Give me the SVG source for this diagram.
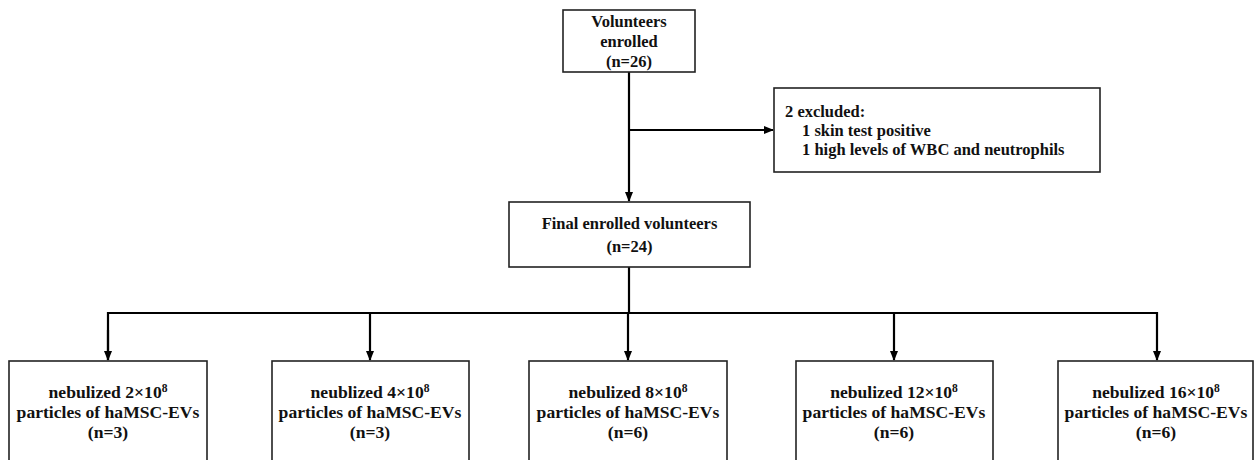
<svg xmlns="http://www.w3.org/2000/svg" width="1255" height="460" viewBox="0 0 1255 460">
<defs>
<marker id="arr" markerWidth="10" markerHeight="10" refX="9" refY="5" orient="auto" markerUnits="userSpaceOnUse">
<path d="M0,1 L10,5 L0,9 Z" fill="#000"/>
</marker>
<style>
.box{fill:#fff;stroke:#222;stroke-width:1.6}
.t{font-weight:bold;font-size:16.5px;fill:#111}
.b{font-size:17.6px}
.c{text-anchor:middle}
.ln{fill:none;stroke:#000;stroke-width:2.2}
.sup{font-size:11.5px}
</style>
</defs>
<rect width="1255" height="460" fill="#fff"/>
<g id="connectors">
<line class="ln" x1="629" y1="72" x2="629" y2="201" marker-end="url(#arr)"/>
<line class="ln" x1="629" y1="130" x2="773" y2="130" marker-end="url(#arr)"/>
<line class="ln" x1="629" y1="267" x2="629" y2="313"/>
<polyline class="ln" points="108,360 108,313 1157,313 1157,360" marker-end="url(#arr)"/>
<line class="ln" x1="108" y1="330" x2="108" y2="360" marker-end="url(#arr)"/>
<line class="ln" x1="370" y1="313" x2="370" y2="360" marker-end="url(#arr)"/>
<line class="ln" x1="628" y1="313" x2="628" y2="360" marker-end="url(#arr)"/>
<line class="ln" x1="894" y1="313" x2="894" y2="360" marker-end="url(#arr)"/>
</g>
<g font-family="'Liberation Serif', 'Times New Roman', 'DejaVu Serif', serif">
<g id="n-enrolled">
<rect class="box" x="563" y="10" width="132" height="62"/>
<text class="t c" x="629" y="27">Volunteers</text>
<text class="t c" x="629" y="47">enrolled</text>
<text class="t c" x="629" y="67">(n=26)</text>
</g>
<g id="n-excluded">
<rect class="box" x="774" y="88" width="326" height="84"/>
<text class="t" x="785" y="117">2 excluded:</text>
<text class="t" x="802" y="136">1 skin test positive</text>
<text class="t" x="802" y="155">1 high levels of WBC and neutrophils</text>
</g>
<g id="n-final">
<rect class="box" x="509" y="202" width="241" height="65"/>
<text class="t c" x="629.5" y="229">Final enrolled volunteers</text>
<text class="t c" x="629.5" y="252">(n=24)</text>
</g>
<g id="n-g1">
<rect class="box" x="9" y="361" width="198" height="110"/>
<text class="t b c" x="108" y="398">nebulized 2×10<tspan class="sup" dy="-6">8</tspan></text>
<text class="t b c" x="108" y="418">particles of haMSC-EVs</text>
<text class="t b c" x="108" y="438">(n=3)</text>
</g>
<g id="n-g2">
<rect class="box" x="272" y="361" width="197" height="110"/>
<text class="t b c" x="370" y="398">neublized 4×10<tspan class="sup" dy="-6">8</tspan></text>
<text class="t b c" x="370" y="418">particles of haMSC-EVs</text>
<text class="t b c" x="370" y="438">(n=3)</text>
</g>
<g id="n-g3">
<rect class="box" x="529" y="361" width="198" height="110"/>
<text class="t b c" x="628" y="398">nebulized 8×10<tspan class="sup" dy="-6">8</tspan></text>
<text class="t b c" x="628" y="418">particles of haMSC-EVs</text>
<text class="t b c" x="628" y="438">(n=6)</text>
</g>
<g id="n-g4">
<rect class="box" x="796" y="361" width="197" height="110"/>
<text class="t b c" x="894" y="398">nebulized 12×10<tspan class="sup" dy="-6">8</tspan></text>
<text class="t b c" x="894" y="418">particles of haMSC-EVs</text>
<text class="t b c" x="894" y="438">(n=6)</text>
</g>
<g id="n-g5">
<rect class="box" x="1058" y="361" width="195" height="110"/>
<text class="t b c" x="1156" y="398">nebulized 16×10<tspan class="sup" dy="-6">8</tspan></text>
<text class="t b c" x="1156" y="418">particles of haMSC-EVs</text>
<text class="t b c" x="1156" y="438">(n=6)</text>
</g>
</g>
</svg>
